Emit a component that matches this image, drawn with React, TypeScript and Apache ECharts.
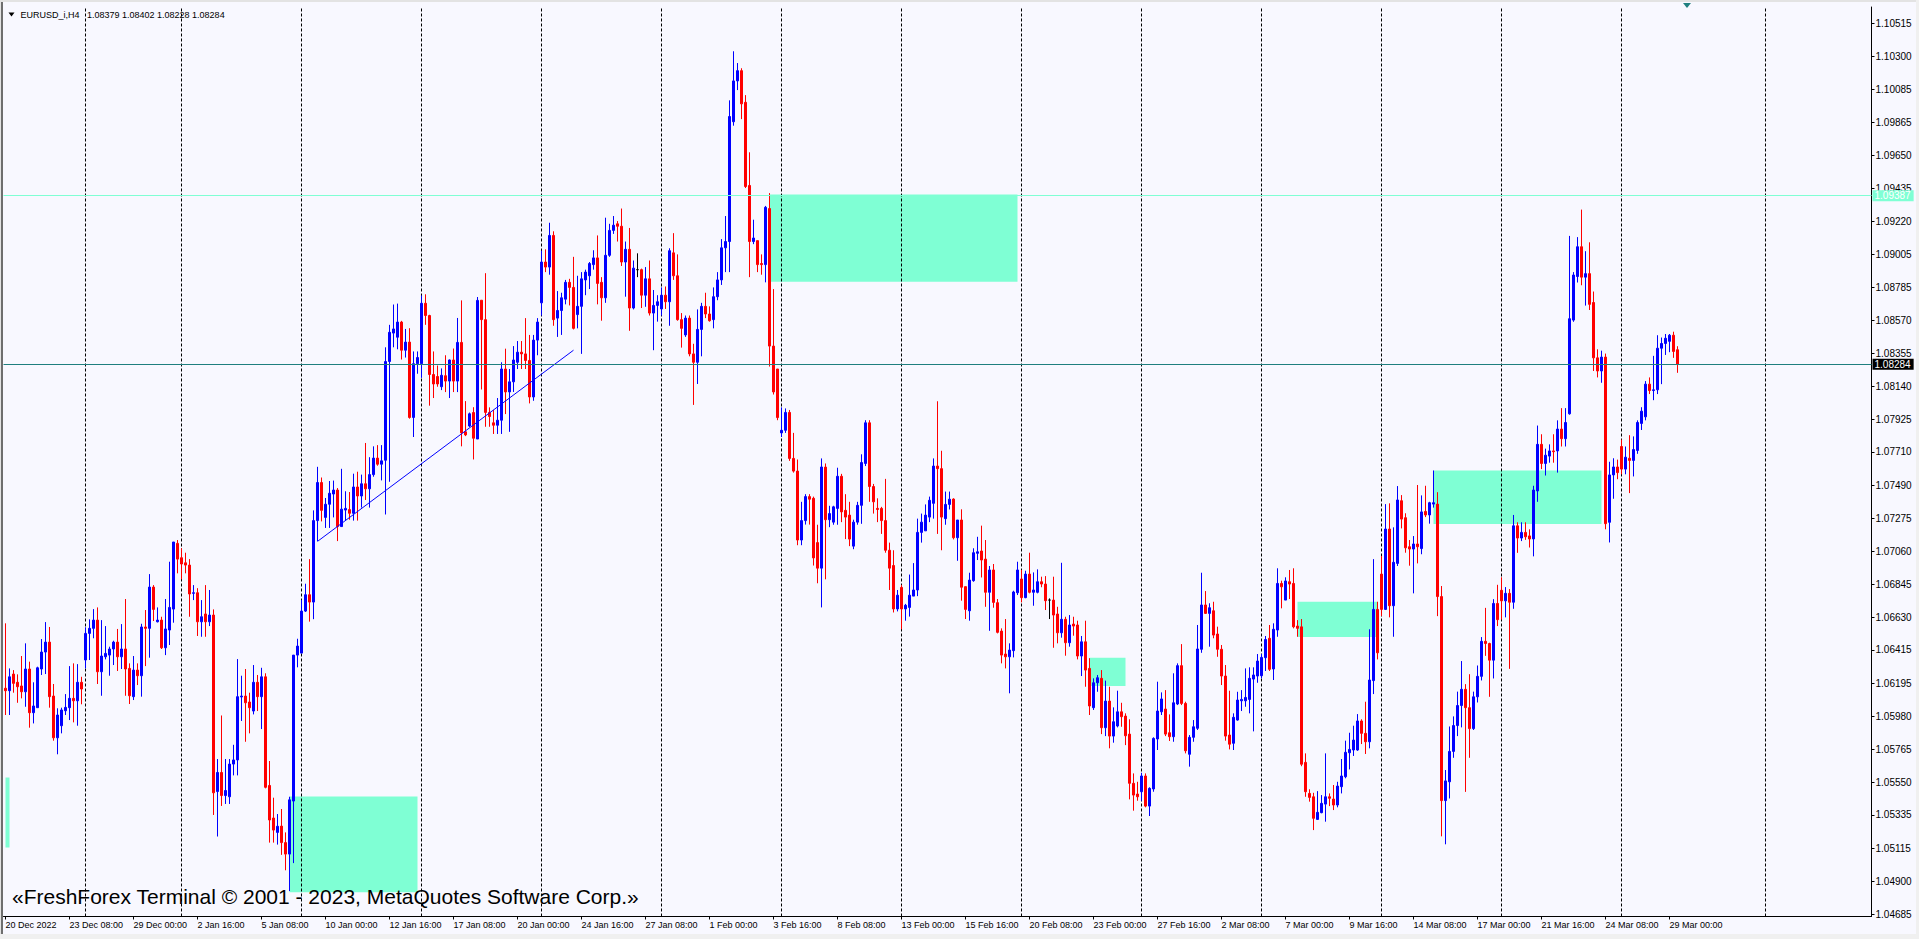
import React, { useEffect, useRef } from 'react';
import * as echarts from 'echarts';

// ---------- text ----------
const symbolTitle = 'EURUSD_i,H4';
const watermarkText = '«FreshForex Terminal © 2001 - 2023, MetaQuotes Software Corp.»';

// ---------- time axis (H4 bars) ----------
const MONTHS = ['Jan', 'Feb', 'Mar', 'Apr', 'May', 'Jun', 'Jul', 'Aug', 'Sep', 'Oct', 'Nov', 'Dec'];
const firstBarUTC = Date.UTC(2022, 11, 20, 16, 0);
const closedDays = ['2022-12-26'];
const slotCount = 467; // bars plus the empty space to the right of the last bar
const labelEvery = 16;

// ---------- OHLC (EURUSD H4) ----------
const opens = [
  1.06164,1.06148,1.06257,1.06203,1.06179,1.06141,1.06290,1.06004,1.06037,1.06290,
  1.06401,1.06466,1.06113,1.05840,1.05919,1.06017,1.06037,1.06098,1.06082,1.06203,
  1.06349,1.06523,1.06556,1.06610,1.06272,1.06370,1.06381,1.06421,1.06466,1.06370,
  1.06421,1.06294,1.06109,1.06283,1.06246,1.06565,1.06556,1.06826,1.06599,1.06610,
  1.06429,1.06545,1.06682,1.07112,1.07018,1.06985,1.06970,1.06785,1.06789,1.06599,
  1.06650,1.06599,1.06643,1.05488,1.05613,1.05462,1.05454,1.05668,1.05695,1.06107,
  1.06113,1.06074,1.06015,1.06203,1.06109,1.06239,1.05528,1.05315,1.05221,1.05262,
  1.05154,1.05079,1.05426,1.06381,1.06394,1.06669,1.06776,1.06728,1.07261,1.07510,
  1.07282,1.07368,1.07435,1.07461,1.07222,1.07330,1.07333,1.07309,1.07481,1.07422,
  1.07502,1.07469,1.07562,1.07670,1.07630,1.07656,1.08302,1.08488,1.08461,1.08560,
  1.08376,1.08429,1.07936,1.08288,1.08288,1.08683,1.08603,1.08217,1.08204,1.08137,
  1.08209,1.08174,1.08312,1.08174,1.08427,1.07842,1.07880,1.07968,1.07795,1.08703,
  1.08576,1.07969,1.07901,1.07885,1.07918,1.08253,1.08103,1.08169,1.08297,1.08363,
  1.08352,1.08309,1.08070,1.08442,1.08686,1.08953,1.08920,1.09127,1.08586,1.08636,
  1.08710,1.08820,1.08787,1.08609,1.08663,1.08836,1.08863,1.08936,1.08980,1.08820,
  1.08719,1.08997,1.09160,1.09203,1.09187,1.08953,1.09036,1.08652,1.08903,1.08903,
  1.08736,1.08843,1.08619,1.08669,1.08646,1.08736,1.08693,1.09013,1.08863,1.08576,
  1.08476,1.08586,1.08352,1.08297,1.08512,1.08663,1.08613,1.08576,1.08726,1.08836,
  1.09046,1.09087,1.09871,1.10138,1.10205,1.09998,1.09454,1.09087,1.09093,1.08943,
  1.08936,1.09303,1.08403,1.08253,1.07835,1.07852,1.07969,1.07668,1.07585,1.07134,
  1.07261,1.07418,1.07407,1.07117,1.06950,1.07611,1.07267,1.07251,1.07341,1.07551,
  1.07328,1.07297,1.07094,1.07251,1.07361,1.07635,1.07901,1.07484,1.07341,1.07341,
  1.07261,1.07067,1.06967,1.06683,1.06824,1.06683,1.06693,1.06767,1.06807,1.07184,
  1.07194,1.07284,1.07374,1.07618,1.07601,1.07274,1.07367,1.07402,1.07149,1.07265,
  1.06829,1.06671,1.06868,1.07047,1.07062,1.07009,1.06792,1.06938,1.06724,1.06538,
  1.06388,1.06370,1.06410,1.06789,1.06879,1.06757,1.06911,1.06792,1.06792,1.06861,
  1.06846,1.06741,1.06741,1.06650,1.06527,1.06615,1.06462,1.06584,1.06578,1.06375,
  1.06468,1.06294,1.06037,1.06200,1.06229,1.05906,1.06080,1.05851,1.05917,1.06010,
  1.05982,1.05864,1.05542,1.05472,1.05487,1.05590,1.05393,1.05505,1.05832,1.06010,
  1.06028,1.05873,1.05847,1.06061,1.06312,1.06065,1.05732,1.05843,1.05902,1.06419,
  1.06709,1.06654,1.06671,1.06519,1.06419,1.06244,1.05858,1.05804,1.05956,1.06082,
  1.06082,1.06091,1.06224,1.06244,1.06246,1.06364,1.06491,1.06290,1.06545,1.06850,
  1.06741,1.06861,1.06850,1.06571,1.06566,1.05679,1.05476,1.05454,1.05306,1.05350,
  1.05406,1.05454,1.05439,1.05400,1.05520,1.05585,1.05742,1.05760,1.05760,1.05950,
  1.05869,1.05814,1.06214,1.06680,1.06911,1.06680,1.07206,1.06704,1.06981,1.07391,
  1.07280,1.07090,1.07075,1.07108,1.07078,1.07321,1.07298,1.07369,1.07369,1.06764,
  1.05429,1.05552,1.05751,1.05920,1.06051,1.06157,1.06037,1.05900,1.06108,1.06242,
  1.06471,1.06457,1.06348,1.06719,1.06805,1.06736,1.06785,1.06727,1.07227,1.07147,
  1.07184,1.07161,1.07141,1.07455,1.07760,1.07635,1.07683,1.07717,1.07717,1.07860,
  1.07797,1.07960,1.08573,1.08858,1.09053,1.08854,1.08877,1.08688,1.08326,1.08240,
  1.08331,1.07250,1.07560,1.07612,1.07746,1.07598,1.07669,1.07655,1.07720,1.07897,
  1.07940,1.08154,1.08112,1.08117,1.08389,1.08420,1.08434,1.08474,1.08379,
];
const highs = [
  1.06589,1.06294,1.06283,1.06255,1.06375,1.06458,1.06338,1.06203,1.06305,1.06486,
  1.06597,1.06565,1.06192,1.06033,1.06037,1.06126,1.06309,1.06327,1.06322,1.06239,
  1.06563,1.06615,1.06682,1.06693,1.06610,1.06571,1.06436,1.06475,1.06552,1.06584,
  1.06748,1.06327,1.06375,1.06327,1.06586,1.06676,1.06911,1.06839,1.06693,1.06632,
  1.06748,1.06992,1.07121,1.07134,1.07080,1.07051,1.07009,1.06839,1.06819,1.06741,
  1.06839,1.06807,1.06680,1.05701,1.05986,1.05701,1.05701,1.05794,1.06355,1.06246,
  1.06290,1.06135,1.06316,1.06251,1.06298,1.06262,1.05688,1.05448,1.05341,1.05374,
  1.05221,1.05454,1.06381,1.06488,1.06741,1.06848,1.07009,1.07328,1.07613,1.07543,
  1.07409,1.07520,1.07523,1.07474,1.07600,1.07453,1.07448,1.07568,1.07581,1.07562,
  1.07769,1.07676,1.07747,1.07755,1.07755,1.08395,1.08542,1.08675,1.08681,1.08568,
  1.08515,1.08520,1.08368,1.08368,1.08734,1.08742,1.08608,1.08368,1.08276,1.08257,
  1.08343,1.08315,1.08387,1.08587,1.08702,1.08043,1.07968,1.08003,1.08724,1.08703,
  1.08880,1.08002,1.07985,1.08063,1.08297,1.08386,1.08253,1.08403,1.08436,1.08436,
  1.08586,1.08476,1.08476,1.08586,1.09027,1.09036,1.09210,1.09154,1.08763,1.08752,
  1.08836,1.08843,1.08987,1.08863,1.08887,1.08903,1.08953,1.09030,1.09127,1.08854,
  1.09243,1.09203,1.09254,1.09221,1.09303,1.09087,1.09176,1.08963,1.09010,1.08910,
  1.08920,1.08963,1.08770,1.08736,1.08787,1.08793,1.09043,1.09142,1.09003,1.08619,
  1.08603,1.08603,1.08418,1.08643,1.08686,1.08752,1.08663,1.08787,1.08887,1.09103,
  1.09254,1.10011,1.10332,1.10255,1.10221,1.10045,1.09671,1.09230,1.09093,1.09003,
  1.09320,1.09404,1.08776,1.08253,1.08002,1.07995,1.07985,1.07835,1.07661,1.07384,
  1.07434,1.07434,1.07418,1.07234,1.07668,1.07635,1.07358,1.07358,1.07607,1.07567,
  1.07434,1.07384,1.07267,1.07384,1.07695,1.07918,1.07918,1.07501,1.07407,1.07351,
  1.07534,1.07117,1.07067,1.06807,1.06840,1.06716,1.06908,1.06983,1.07274,1.07307,
  1.07367,1.07418,1.07668,1.08042,1.07718,1.07451,1.07451,1.07407,1.07265,1.07335,
  1.06829,1.06920,1.07080,1.07155,1.07228,1.07134,1.06964,1.06977,1.06748,1.06556,
  1.06617,1.06458,1.06802,1.06992,1.06938,1.06933,1.07051,1.06922,1.06942,1.06894,
  1.06898,1.06752,1.06894,1.06697,1.06985,1.06632,1.06643,1.06632,1.06606,1.06506,
  1.06606,1.06361,1.06229,1.06251,1.06283,1.06214,1.06174,1.06039,1.06148,1.06069,
  1.06000,1.05961,1.05607,1.05552,1.05611,1.05607,1.05516,1.05843,1.06207,1.06137,
  1.06152,1.05993,1.06262,1.06327,1.06453,1.06076,1.05858,1.05956,1.06578,1.06920,
  1.06800,1.06720,1.06730,1.06567,1.06447,1.06316,1.06148,1.06000,1.06141,1.06152,
  1.06294,1.06301,1.06301,1.06388,1.06388,1.06506,1.06578,1.06589,1.06949,1.06868,
  1.06890,1.06938,1.06949,1.06610,1.06617,1.05738,1.05503,1.05480,1.05491,1.05465,
  1.05738,1.05476,1.05531,1.05552,1.05701,1.05821,1.05873,1.05919,1.05995,1.05961,
  1.06076,1.06550,1.07009,1.06730,1.07029,1.07369,1.07374,1.07217,1.07487,1.07428,
  1.07309,1.07134,1.07160,1.07494,1.07426,1.07489,1.07384,1.07589,1.07447,1.06833,
  1.05629,1.05914,1.05980,1.06142,1.06342,1.06191,1.06256,1.06142,1.06313,1.06499,
  1.06690,1.06462,1.06747,1.06841,1.06890,1.06826,1.06813,1.07298,1.07250,1.07250,
  1.07250,1.07204,1.07489,1.07883,1.07826,1.07732,1.07760,1.07826,1.07917,1.07997,
  1.07997,1.09124,1.08887,1.09116,1.09296,1.09024,1.09082,1.08760,1.08382,1.08373,
  1.08354,1.07646,1.07669,1.07660,1.07791,1.07746,1.07820,1.07812,1.07917,1.08003,
  1.08174,1.08198,1.08339,1.08474,1.08459,1.08482,1.08482,1.08497,1.08402,
];
const lows = [
  1.05989,1.05989,1.06135,1.06069,1.06098,1.06043,1.05906,1.05934,1.06037,1.06251,
  1.06257,1.06037,1.05821,1.05732,1.05869,1.05989,1.05956,1.05941,1.05919,1.06059,
  1.06294,1.06349,1.06491,1.06192,1.06115,1.06353,1.06246,1.06316,1.06277,1.06290,
  1.06115,1.06061,1.06087,1.06185,1.06109,1.06309,1.06364,1.06604,1.06595,1.06421,
  1.06381,1.06447,1.06593,1.06916,1.06877,1.06916,1.06632,1.06741,1.06506,1.06501,
  1.06501,1.06571,1.05335,1.05194,1.05394,1.05407,1.05407,1.05594,1.05594,1.05950,
  1.05814,1.05869,1.05993,1.06015,1.05897,1.05509,1.05154,1.05154,1.05141,1.05074,
  1.04973,1.04837,1.05020,1.06301,1.06394,1.06663,1.06600,1.06616,1.07127,1.07256,
  1.07213,1.07213,1.07282,1.07127,1.07222,1.07261,1.07267,1.07261,1.07261,1.07346,
  1.07396,1.07346,1.07548,1.07620,1.07524,1.07301,1.07515,1.08395,1.08382,1.08315,
  1.08328,1.07928,1.07808,1.08222,1.08195,1.08542,1.08013,1.08063,1.08137,1.08115,
  1.08102,1.08063,1.08102,1.08102,1.07747,1.07814,1.07874,1.07661,1.07795,1.08119,
  1.07875,1.07875,1.07828,1.07828,1.07828,1.07958,1.07842,1.08103,1.08253,1.08253,
  1.08253,1.08028,1.08045,1.08343,1.08603,1.08887,1.08870,1.08536,1.08463,1.08476,
  1.08676,1.08669,1.08512,1.08519,1.08352,1.08736,1.08776,1.08903,1.08676,1.08569,
  1.08686,1.08987,1.09137,1.09087,1.08927,1.08726,1.08503,1.08643,1.08854,1.08652,
  1.08660,1.08603,1.08376,1.08563,1.08603,1.08646,1.08536,1.08836,1.08569,1.08393,
  1.08463,1.08336,1.08018,1.08155,1.08336,1.08586,1.08563,1.08519,1.08703,1.08803,
  1.08887,1.08887,1.09845,1.10078,1.09888,1.09437,1.08854,1.09070,1.08887,1.08870,
  1.08820,1.08269,1.08086,1.07918,1.07808,1.07835,1.07652,1.07575,1.07100,1.07100,
  1.07235,1.07235,1.06967,1.06851,1.06693,1.06877,1.07218,1.07234,1.07234,1.07251,
  1.07140,1.07094,1.07074,1.07234,1.07240,1.07618,1.07384,1.07307,1.07251,1.07174,
  1.07051,1.06807,1.06660,1.06667,1.06550,1.06606,1.06633,1.06767,1.06767,1.07117,
  1.07194,1.07251,1.07274,1.07174,1.07067,1.07234,1.07334,1.07138,1.06998,1.06737,
  1.06617,1.06606,1.06861,1.07003,1.06889,1.06697,1.06540,1.06691,1.06523,1.06327,
  1.06294,1.06131,1.06366,1.06774,1.06726,1.06753,1.06785,1.06704,1.06785,1.06825,
  1.06676,1.06617,1.06429,1.06458,1.06495,1.06377,1.06436,1.06508,1.06353,1.06244,
  1.06174,1.05989,1.06022,1.06141,1.05864,1.05851,1.05771,1.05808,1.05908,1.05912,
  1.05792,1.05437,1.05363,1.05428,1.05428,1.05385,1.05328,1.05487,1.05760,1.05989,
  1.05851,1.05819,1.05814,1.06054,1.06054,1.05738,1.05651,1.05814,1.05891,1.06396,
  1.06650,1.06436,1.06491,1.06370,1.06185,1.05821,1.05764,1.05760,1.05952,1.06015,
  1.06043,1.06000,1.05882,1.06200,1.06229,1.06277,1.06277,1.06218,1.06501,1.06687,
  1.06741,1.06748,1.06556,1.06501,1.05654,1.05454,1.05422,1.05236,1.05302,1.05346,
  1.05291,1.05393,1.05367,1.05385,1.05476,1.05575,1.05633,1.05721,1.05755,1.05799,
  1.05734,1.05771,1.06126,1.06353,1.06637,1.06676,1.06628,1.06501,1.06964,1.07210,
  1.07051,1.06966,1.06785,1.06981,1.07041,1.07284,1.07241,1.07346,1.06636,1.05195,
  1.05143,1.05443,1.05709,1.05851,1.05908,1.05486,1.05709,1.05891,1.06071,1.06215,
  1.06376,1.06108,1.06228,1.06571,1.06613,1.06628,1.06291,1.06684,1.07050,1.07127,
  1.07135,1.07085,1.07027,1.07384,1.07598,1.07556,1.07640,1.07640,1.07575,1.07746,
  1.07746,1.07954,1.08562,1.08819,1.08801,1.08668,1.08639,1.08240,1.08198,1.08163,
  1.07204,1.07118,1.07404,1.07532,1.07564,1.07564,1.07441,1.07550,1.07698,1.07854,
  1.07917,1.08089,1.08049,1.08089,1.08154,1.08345,1.08363,1.08326,1.08228,
];
const closes = [
  1.06148,1.06239,1.06196,1.06174,1.06141,1.06290,1.06004,1.06048,1.06298,1.06401,
  1.06466,1.06109,1.05840,1.05989,1.06022,1.06039,1.06098,1.06082,1.06203,1.06159,
  1.06523,1.06556,1.06610,1.06272,1.06375,1.06392,1.06421,1.06466,1.06370,1.06421,
  1.06290,1.06115,1.06283,1.06246,1.06565,1.06556,1.06826,1.06680,1.06610,1.06429,
  1.06552,1.06693,1.07121,1.07009,1.06977,1.06970,1.06781,1.06789,1.06599,1.06632,
  1.06599,1.06643,1.05480,1.05613,1.05462,1.05495,1.05668,1.05695,1.06109,1.06113,
  1.06069,1.06037,1.06203,1.06109,1.06239,1.05516,1.05302,1.05236,1.05261,1.05154,
  1.05079,1.05434,1.06381,1.06440,1.06669,1.06776,1.06728,1.07261,1.07510,1.07328,
  1.07368,1.07440,1.07461,1.07222,1.07336,1.07341,1.07309,1.07481,1.07422,1.07502,
  1.07469,1.07562,1.07670,1.07630,1.07652,1.08302,1.08493,1.08515,1.08560,1.08376,
  1.08429,1.07936,1.08288,1.08328,1.08683,1.08603,1.08217,1.08155,1.08155,1.08212,
  1.08174,1.08312,1.08174,1.08427,1.07835,1.07822,1.07960,1.07800,1.08702,1.08576,
  1.07969,1.07942,1.07885,1.07918,1.08253,1.08103,1.08169,1.08312,1.08363,1.08352,
  1.08309,1.08070,1.08442,1.08560,1.08953,1.08920,1.09127,1.08576,1.08636,1.08719,
  1.08820,1.08787,1.08519,1.08663,1.08843,1.08887,1.08943,1.08980,1.08813,1.08719,
  1.08997,1.09160,1.09194,1.09187,1.08953,1.09036,1.08652,1.08913,1.08903,1.08736,
  1.08843,1.08619,1.08669,1.08693,1.08736,1.08693,1.09027,1.08863,1.08576,1.08519,
  1.08586,1.08352,1.08297,1.08512,1.08663,1.08613,1.08569,1.08726,1.08836,1.09046,
  1.09087,1.09905,1.10138,1.10205,1.09988,1.09447,1.09087,1.09110,1.08936,1.08936,
  1.09311,1.08403,1.08103,1.07935,1.07852,1.07969,1.07668,1.07585,1.07134,1.07261,
  1.07418,1.07401,1.07017,1.06950,1.07612,1.07267,1.07307,1.07351,1.07551,1.07318,
  1.07284,1.07140,1.07251,1.07361,1.07641,1.07901,1.07484,1.07384,1.07334,1.07261,
  1.07067,1.06950,1.06683,1.06773,1.06683,1.06707,1.06773,1.06807,1.07184,1.07251,
  1.07297,1.07394,1.07618,1.07601,1.07284,1.07367,1.07401,1.07149,1.07265,1.06825,
  1.06680,1.06872,1.07051,1.07057,1.07003,1.06792,1.06938,1.06726,1.06530,1.06381,
  1.06370,1.06414,1.06794,1.06938,1.06757,1.06911,1.06792,1.06807,1.06861,1.06846,
  1.06737,1.06741,1.06643,1.06527,1.06615,1.06462,1.06578,1.06571,1.06375,1.06468,
  1.06283,1.06048,1.06200,1.06233,1.05906,1.06080,1.05851,1.05945,1.06010,1.05978,
  1.05853,1.05542,1.05465,1.05454,1.05590,1.05393,1.05509,1.05836,1.06015,1.06094,
  1.05864,1.05847,1.06069,1.06312,1.06065,1.05755,1.05843,1.05912,1.06421,1.06709,
  1.06654,1.06691,1.06512,1.06419,1.06244,1.05851,1.05798,1.05974,1.06087,1.06091,
  1.06104,1.06229,1.06251,1.06342,1.06366,1.06483,1.06288,1.06550,1.06850,1.06828,
  1.06866,1.06846,1.06566,1.06556,1.05667,1.05487,1.05450,1.05313,1.05352,1.05411,
  1.05454,1.05444,1.05400,1.05524,1.05590,1.05745,1.05764,1.05825,1.05950,1.05869,
  1.05814,1.06218,1.06680,1.06396,1.06680,1.07206,1.06704,1.06988,1.07396,1.07271,
  1.07083,1.07075,1.07108,1.07090,1.07318,1.07298,1.07378,1.07378,1.06764,1.05429,
  1.05558,1.05751,1.05920,1.06051,1.06157,1.06037,1.05900,1.06108,1.06242,1.06471,
  1.06457,1.06348,1.06719,1.06613,1.06736,1.06785,1.06727,1.07227,1.07147,1.07184,
  1.07155,1.07141,1.07461,1.07760,1.07635,1.07689,1.07717,1.07712,1.07860,1.07797,
  1.07903,1.08582,1.08868,1.09053,1.08854,1.08877,1.08676,1.08326,1.08240,1.08331,
  1.07241,1.07560,1.07612,1.07575,1.07598,1.07676,1.07655,1.07726,1.07903,1.07977,
  1.08154,1.08112,1.08117,1.08389,1.08420,1.08454,1.08474,1.08368,1.08284,
];

// ---------- price axis ----------
const priceTicks = [
  1.10515, 1.10300, 1.10085, 1.09865, 1.09650, 1.09435, 1.09220, 1.09005, 1.08785, 1.08570,
  1.08355, 1.08140, 1.07925, 1.07710, 1.07490, 1.07275, 1.07060, 1.06845, 1.06630, 1.06415,
  1.06195, 1.05980, 1.05765, 1.05550, 1.05335, 1.05115, 1.04900, 1.04685,
];
const priceMin = 1.046706;
const priceMax = 1.106217;

// ---------- chart objects ----------
const levelLine = 1.09387; // aquamarine horizontal line
const bidPrice = 1.08284; // current bid line
const weekStarts = [
  '27 Dec 00:00', '2 Jan 00:00', '9 Jan 00:00', '16 Jan 00:00', '23 Jan 00:00', '30 Jan 00:00',
  '6 Feb 00:00', '13 Feb 00:00', '20 Feb 00:00', '27 Feb 00:00', '6 Mar 00:00', '13 Mar 00:00',
  '20 Mar 00:00', '27 Mar 00:00', '4 Apr 00:00',
];
const zoneFrom = ['20 Dec 16:00', '6 Jan 12:00', '3 Feb 12:00', '22 Feb 20:00', '7 Mar 12:00', '15 Mar 04:00'];
const zoneTo = ['20 Dec 20:00', '13 Jan 20:00', '17 Feb 20:00', '24 Feb 08:00', '10 Mar 20:00', '24 Mar 04:00'];
const zoneTop = [1.05580, 1.05455, 1.09395, 1.06364, 1.06730, 1.07589];
const zoneBottom = [1.05122, 1.04829, 1.08824, 1.06179, 1.06499, 1.07239];
const trendTimes = ['9 Jan 16:00', '24 Jan 08:00'];
const trendPrices = [1.07125, 1.08376];

const BULL = '#0000FF';
const BEAR = '#FF0000';
const ZONE = '#7FFFD4';
const BID = '#1F7F7F';
const BG = '#F8F8FF';
const FONT = '"Liberation Sans", Arial, sans-serif';

function pad2(n: number) {
  return n < 10 ? '0' + n : String(n);
}

function buildTimes(): string[] {
  const out: string[] = [];
  let t = firstBarUTC;
  while (out.length < slotCount) {
    const d = new Date(t);
    const dow = d.getUTCDay();
    const key = d.toISOString().slice(0, 10);
    if (dow !== 0 && dow !== 6 && closedDays.indexOf(key) < 0) {
      out.push(`${d.getUTCDate()} ${MONTHS[d.getUTCMonth()]} ${pad2(d.getUTCHours())}:00`);
    }
    t += 4 * 3600 * 1000;
  }
  return out;
}

export default function App() {
  const ref = useRef<HTMLDivElement>(null);

  useEffect(() => {
    if (!ref.current) return;
    const chart = echarts.init(ref.current, null, { renderer: 'svg' });
    const times = buildTimes();
    const lastIdx = opens.length - 1;
    const candles = opens.map((o, i) => [o, closes[i], lows[i], highs[i]]);
    const showAt = (i: number) => i % labelEvery === 0 && i <= lastIdx;
    const first = new Date(firstBarUTC);
    const firstLabel = `${first.getUTCDate()} ${MONTHS[first.getUTCMonth()]} ${first.getUTCFullYear()}`;
    const titleValues = [opens[lastIdx], highs[lastIdx], lows[lastIdx], closes[lastIdx]]
      .map((v) => v.toFixed(5))
      .join(' ');

    chart.setOption({
      animation: false,
      backgroundColor: BG,
      grid: { left: 3.5, right: 47.5, top: 7, bottom: 22.5, show: false },
      xAxis: {
        type: 'category',
        data: times,
        boundaryGap: true,
        axisLine: { show: true, lineStyle: { color: '#000', width: 1 } },
        axisTick: {
          show: true,
          alignWithLabel: true,
          length: 3,
          interval: (i: number) => showAt(i),
          lineStyle: { color: '#000' },
        },
        axisLabel: {
          show: true,
          interval: (i: number) => showAt(i),
          align: 'left',
          margin: 4,
          fontSize: 9,
          fontFamily: FONT,
          color: '#000',
          formatter: (v: string, i: number) => (i === 0 ? firstLabel : v),
        },
        splitLine: { show: false },
      },
      yAxis: {
        type: 'value',
        position: 'right',
        min: priceMin,
        max: priceMax,
        axisLine: { show: true, lineStyle: { color: '#000', width: 1 } },
        axisTick: { show: true, length: 3, customValues: priceTicks, lineStyle: { color: '#000' } },
        axisLabel: {
          show: true,
          customValues: priceTicks,
          margin: 4,
          fontSize: 10,
          fontFamily: FONT,
          color: '#000',
          formatter: (v: number) => v.toFixed(5),
        },
        splitLine: { show: false },
      },
      series: [
        {
          type: 'line',
          data: [],
          silent: true,
          markArea: {
            z: 1,
            silent: true,
            itemStyle: { color: ZONE, opacity: 1 },
            label: { show: false },
            emphasis: { disabled: true },
            data: zoneFrom.map((f, i) => [
              { xAxis: f, yAxis: zoneTop[i] },
              { xAxis: zoneTo[i], yAxis: zoneBottom[i] },
            ]),
          },
          markLine: {
            z: 1.5,
            silent: true,
            symbol: ['none', 'none'],
            label: { show: false },
            emphasis: { disabled: true },
            lineStyle: { color: '#000', width: 1, type: [3, 2] },
            data: weekStarts.map((t) => ({ xAxis: t })),
          },
        },
        {
          type: 'candlestick',
          z: 2,
          data: candles,
          barWidth: 2,
          large: false,
          itemStyle: {
            color: BULL,
            color0: BEAR,
            borderColor: BULL,
            borderColor0: BEAR,
            borderColorDoji: '#000000',
            borderWidth: 1,
          },
          emphasis: { disabled: true },
        },
        {
          type: 'line',
          data: [],
          silent: true,
          markLine: {
            z: 5,
            silent: true,
            precision: 5,
            symbol: ['none', 'none'],
            emphasis: { disabled: true },
            data: [
              [
                { coord: [trendTimes[0], trendPrices[0]], lineStyle: { color: BULL, width: 1, type: 'solid' }, label: { show: false } },
                { coord: [trendTimes[1], trendPrices[1]] },
              ],
              {
                yAxis: levelLine,
                lineStyle: { color: ZONE, width: 1, type: 'solid' },
                label: {
                  show: true,
                  position: 'end',
                  distance: 1,
                  formatter: () => levelLine.toFixed(5),
                  color: '#FFFFFF',
                  backgroundColor: ZONE,
                  padding: [1, 3, 0, 2],
                  fontSize: 10,
                  fontFamily: FONT,
                },
              },
              {
                yAxis: bidPrice,
                lineStyle: { color: BID, width: 1, type: 'solid' },
                label: {
                  show: true,
                  position: 'end',
                  distance: 1,
                  formatter: () => bidPrice.toFixed(5),
                  color: '#FFFFFF',
                  backgroundColor: '#000000',
                  padding: [1, 3, 0, 2],
                  fontSize: 10,
                  fontFamily: FONT,
                },
              },
            ],
          },
        },
      ],
      graphic: [
        { type: 'rect', z: 20, silent: true, shape: { x: 0, y: 0, width: 1919, height: 2 }, style: { fill: '#E3E3E3' } },
        { type: 'rect', z: 20, silent: true, shape: { x: 0, y: 0, width: 1, height: 939 }, style: { fill: '#E3E3E3' } },
        { type: 'rect', z: 20, silent: true, shape: { x: 1, y: 2, width: 2, height: 935 }, style: { fill: '#6E6E6E' } },
        { type: 'rect', z: 20, silent: true, shape: { x: 0, y: 934, width: 1919, height: 5 }, style: { fill: '#F0F0F0' } },
        { type: 'rect', z: 20, silent: true, shape: { x: 1916, y: 0, width: 3, height: 939 }, style: { fill: '#F0F0F0' } },
        {
          type: 'polygon', z: 20, silent: true,
          shape: { points: [[8.5, 12.5], [14.5, 12.5], [11.5, 16.5]] },
          style: { fill: '#000' },
        },
        {
          type: 'text', z: 20, silent: true, x: 20.5, y: 15,
          style: { text: symbolTitle, fontSize: 9, fontFamily: FONT, fill: '#000', verticalAlign: 'middle' },
        },
        {
          type: 'text', z: 20, silent: true, x: 87, y: 15,
          style: { text: titleValues, fontSize: 9, fontFamily: FONT, fill: '#000', verticalAlign: 'middle' },
        },
        {
          type: 'polygon', z: 20, silent: true,
          shape: { points: [[1683, 3], [1691, 3], [1687, 8]] },
          style: { fill: BID },
        },
        {
          type: 'text', z: 20, silent: true, x: 12, y: 896,
          style: { text: watermarkText, fontSize: 21, fontFamily: FONT, fill: '#000', verticalAlign: 'middle' },
        },
      ],
    });

    return () => chart.dispose();
  }, []);

  return (
    <div
      ref={ref}
      style={{ position: 'fixed', left: 0, top: 0, width: 1919, height: 939 }}
    />
  );
}
